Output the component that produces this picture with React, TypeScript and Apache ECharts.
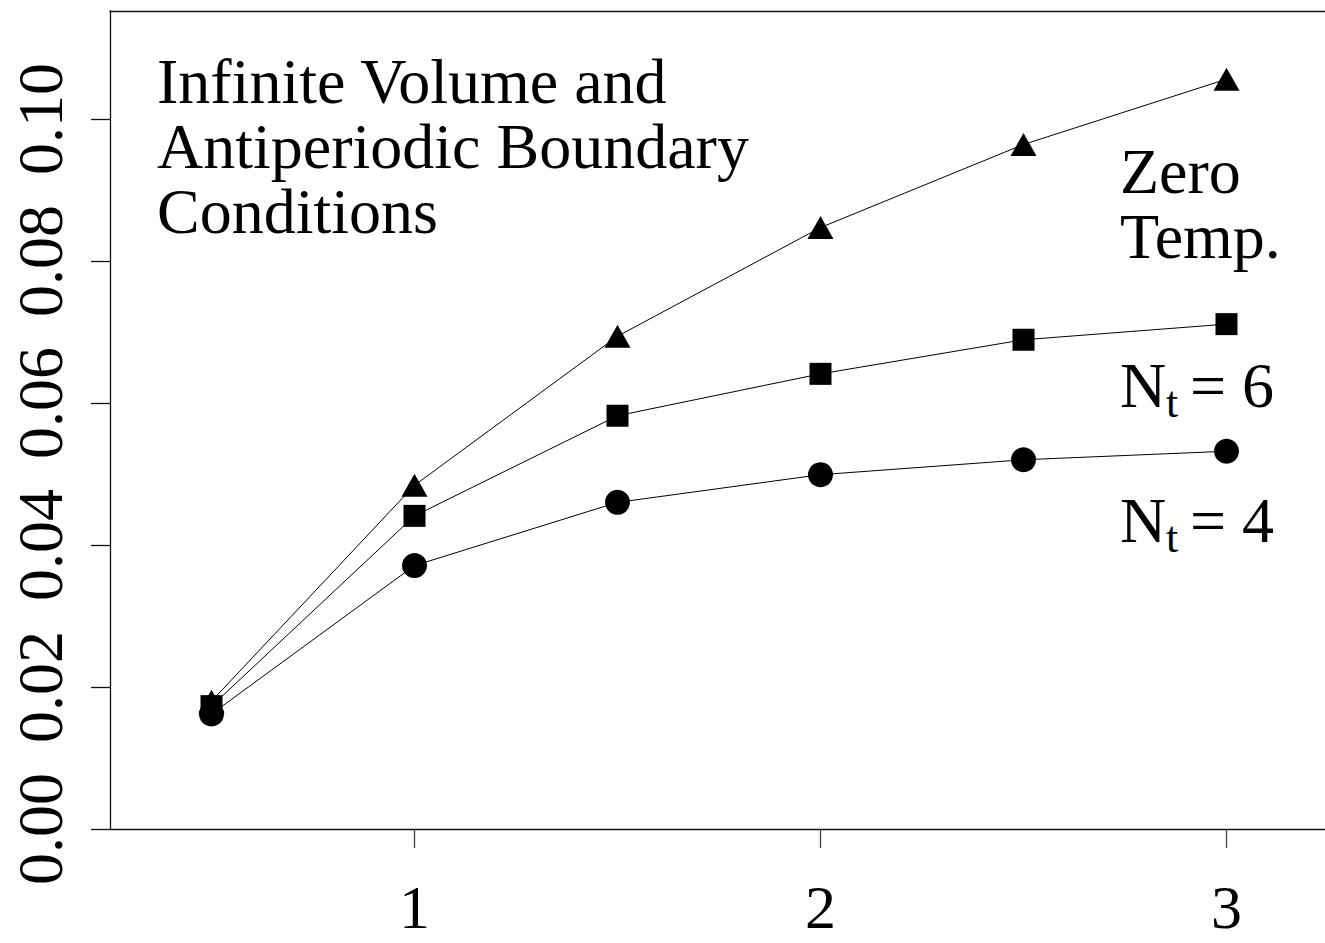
import React, { useEffect, useRef } from "react";
import * as echarts from "echarts";

const xValues = [0.5, 1, 1.5, 2, 2.5, 3];
const zeroTemp = [0.0180, 0.0484, 0.0694, 0.0847, 0.0964, 0.1056];
const nt6 = [0.0173, 0.0441, 0.0582, 0.0641, 0.0689, 0.0711];
const nt4 = [0.0162, 0.0371, 0.0460, 0.0499, 0.0520, 0.0532];
const yTicks = [0, 0.02, 0.04, 0.06, 0.08, 0.1];
const xTicks = [1, 2, 3];

const FONT = "'Liberation Serif', 'Times New Roman', serif";

export default function App() {
  const ref = useRef<HTMLDivElement>(null);
  useEffect(() => {
    if (!ref.current) return;
    const chart = echarts.init(ref.current, null, { renderer: "svg" });
    const pair = (ys: number[]) => xValues.map((x, i) => [x, ys[i]]);
    const lineColor = "#111";
    const txt = (text: string, x: number, y: number, size = 64) => ({
      type: "text",
      x,
      y,
      style: {
        text,
        fill: "#000",
        font: `${size}px ${FONT}`,
        lineHeight: Math.round(size * 0.85),
        textAlign: "left",
        textVerticalAlign: "middle",
      },
    });
    chart.setOption({
      animation: false,
      backgroundColor: "#fff",
      grid: { left: 110, top: 11, right: -3, bottom: 114, outerBoundsMode: "none", containLabel: false },
      xAxis: [
        {
          type: "value",
          min: 0.25,
          max: 3.25,
          splitLine: { show: false },
          axisLine: { show: true, onZero: false, lineStyle: { color: lineColor, width: 1.3 } },
          axisTick: { show: true, length: 19, customValues: xTicks, lineStyle: { color: "#444", width: 1.3 } },
          axisLabel: {
            customValues: xTicks,
            margin: 56,
            color: "#000",
            fontFamily: FONT,
            fontSize: 62,
            lineHeight: 44,
            formatter: (v: number) => String(v),
          },
        },
        {
          type: "value",
          position: "top",
          min: 0.25,
          max: 3.25,
          splitLine: { show: false },
          axisLine: { show: true, onZero: false, lineStyle: { color: lineColor, width: 1.3 } },
          axisTick: { show: false },
          axisLabel: { show: false },
        },
      ],
      yAxis: {
        type: "value",
        min: 0,
        max: 0.1152,
        splitLine: { show: false },
        axisLine: { show: true, onZero: false, lineStyle: { color: lineColor, width: 1.3 } },
        axisTick: { show: true, length: 19, customValues: yTicks, lineStyle: { color: lineColor, width: 1.3 } },
        axisLabel: {
          customValues: yTicks,
          rotate: 90,
          margin: 38,
          color: "#000",
          fontFamily: FONT,
          fontSize: 64,
          formatter: (v: number) => v.toFixed(2),
        },
      },
      series: [
        {
          type: "line",
          data: pair(zeroTemp),
          symbol: "triangle",
          symbolSize: [26, 23],
          itemStyle: { color: "#000" },
          lineStyle: { color: "#000", width: 1 },
        },
        {
          type: "line",
          data: pair(nt6),
          symbol: "rect",
          symbolSize: 22,
          itemStyle: { color: "#000" },
          lineStyle: { color: "#000", width: 1 },
        },
        {
          type: "line",
          data: pair(nt4),
          symbol: "circle",
          symbolSize: 25,
          itemStyle: { color: "#000" },
          lineStyle: { color: "#000", width: 1 },
        },
      ],
      graphic: [
        txt("Infinite Volume and", 157, 81, 64),
        txt("Antiperiodic Boundary", 157, 146, 64),
        txt("Conditions", 157, 211, 64),
        txt("Zero", 1120, 171),
        txt("Temp.", 1120, 236),
        txt("N", 1120, 385),
        txt("t", 1166, 402, 44),
        txt("= 6", 1190, 385),
        txt("N", 1120, 520),
        txt("t", 1166, 537, 44),
        txt("= 4", 1190, 520),
      ],
    });
    return () => chart.dispose();
  }, []);
  return (
    <div
      ref={ref}
      style={{ position: "fixed", left: 0, top: 0, width: 1325, height: 943, background: "#fff" }}
    />
  );
}
